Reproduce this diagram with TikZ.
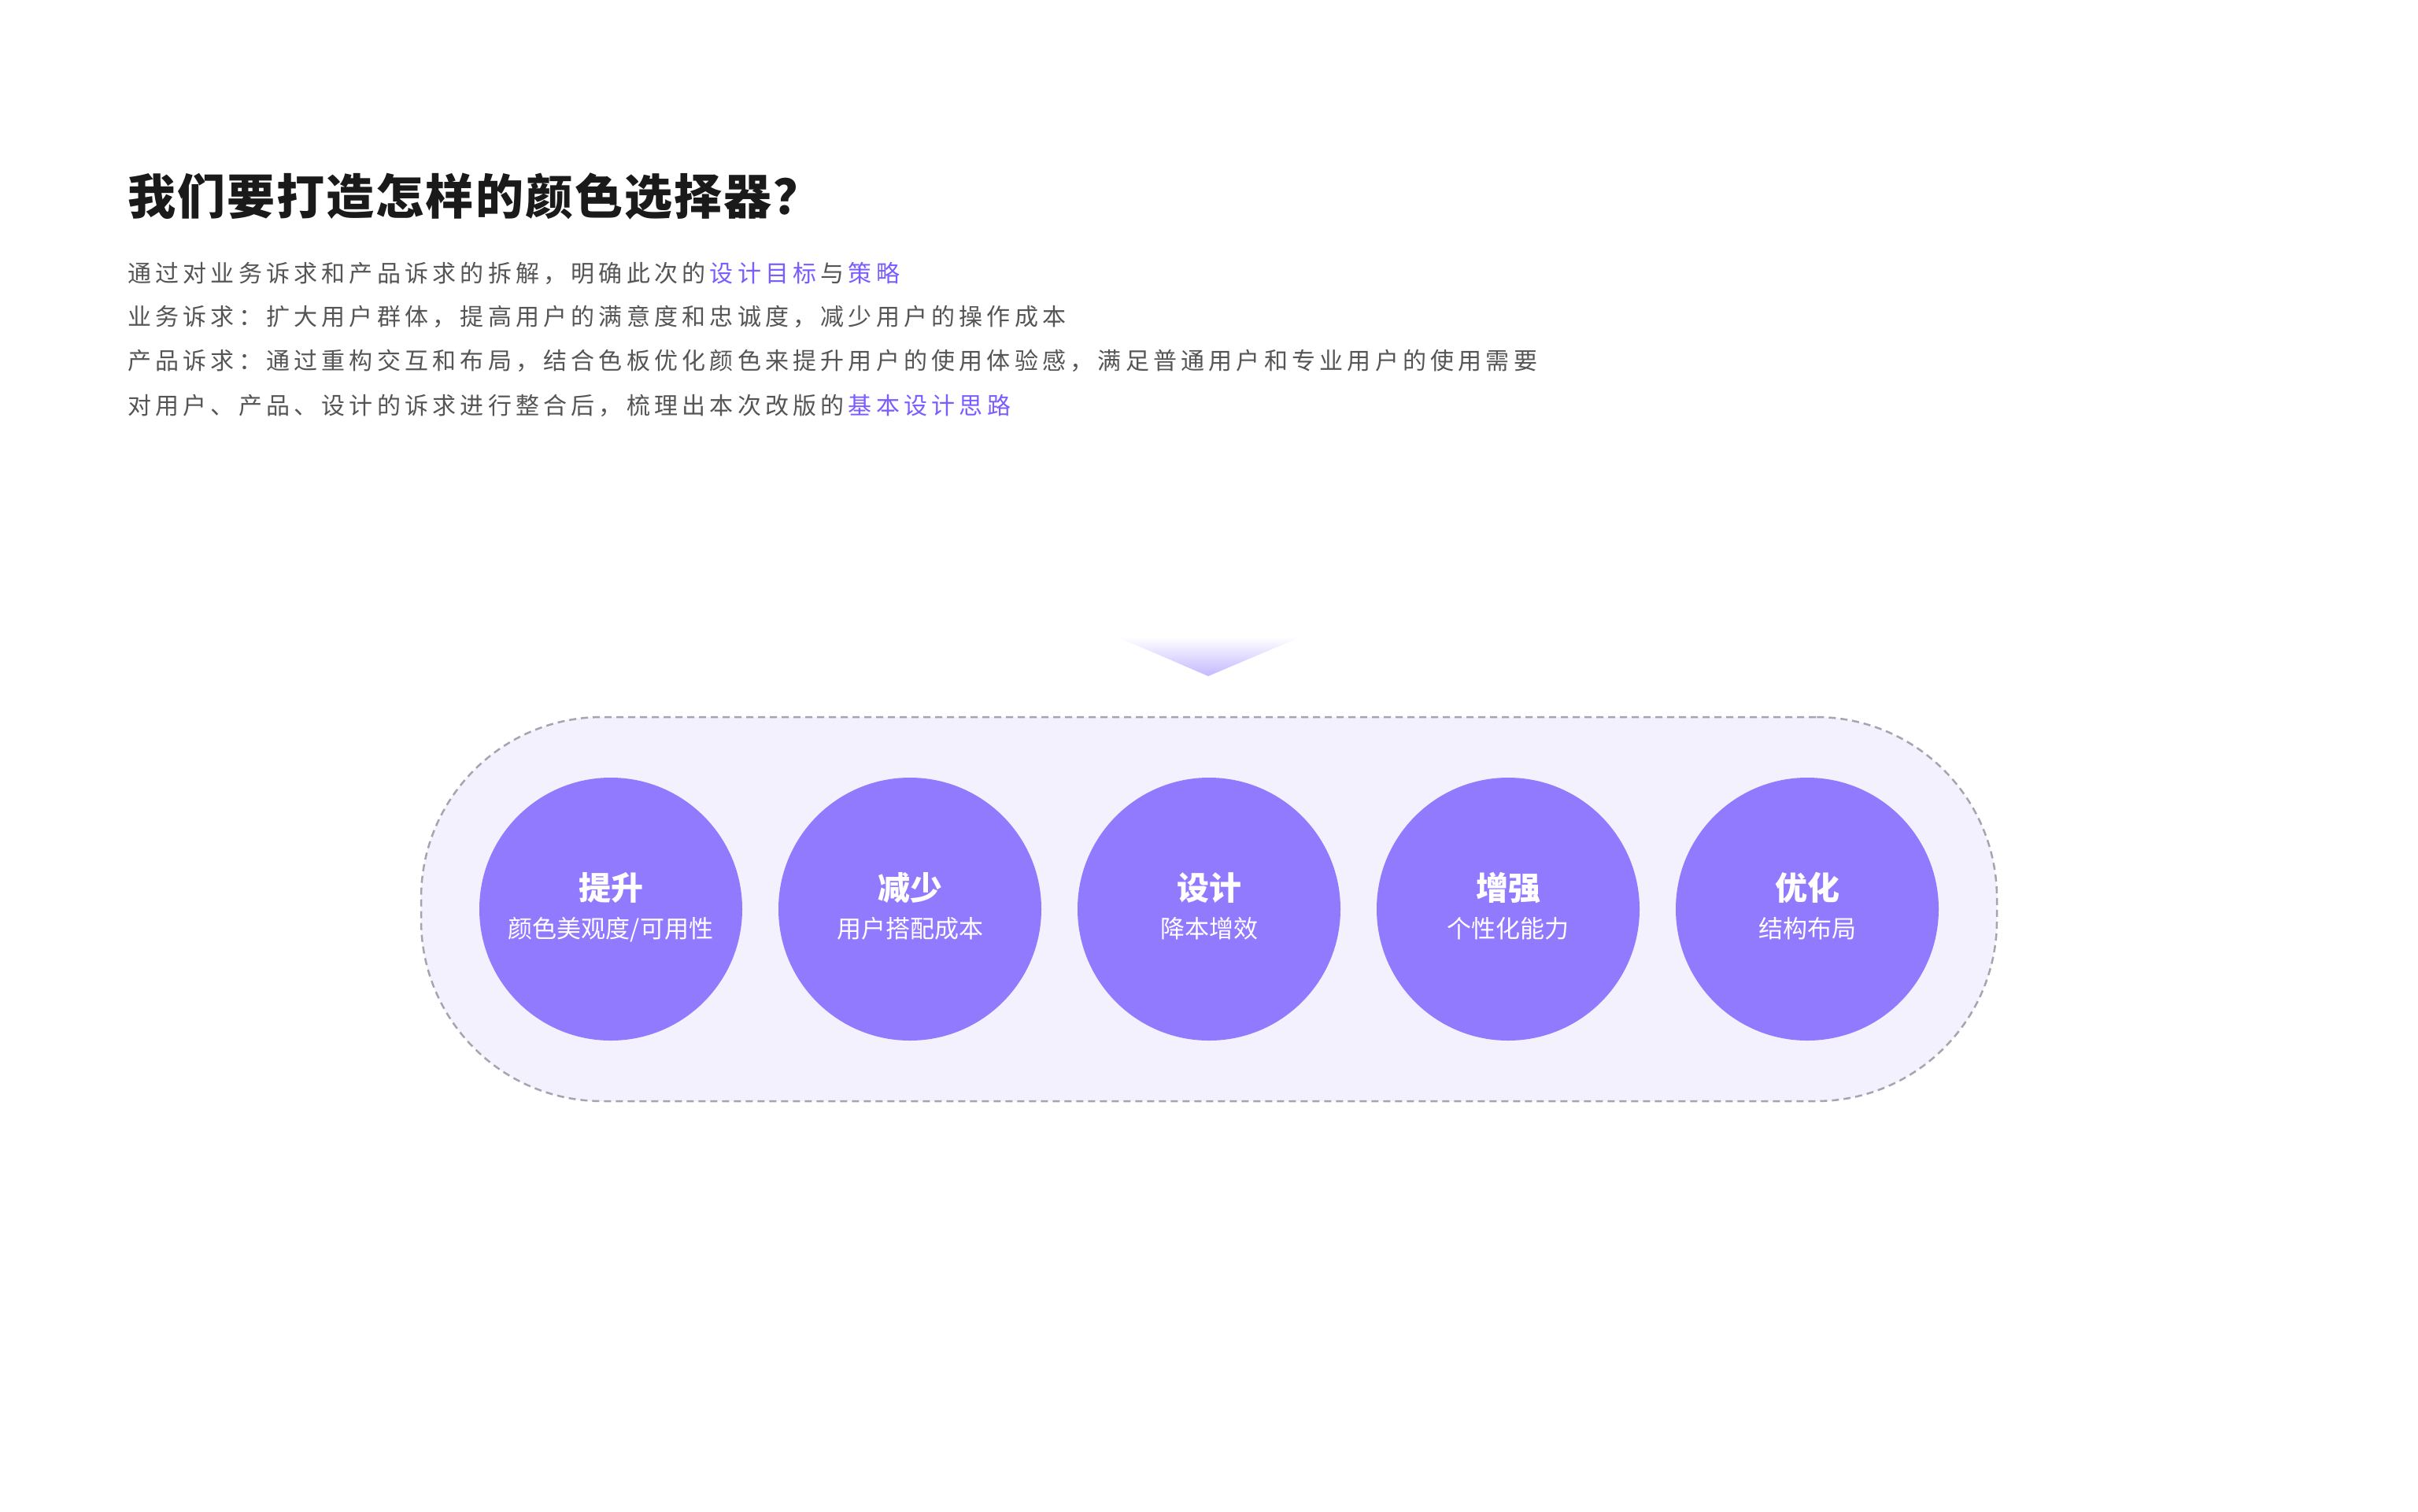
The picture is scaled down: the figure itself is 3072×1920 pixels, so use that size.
\documentclass[tikz,border=0pt]{standalone}
\usepackage{fontspec}
\setmainfont{Noto Sans CJK SC}
\newfontfamily\bodyfont[LetterSpace=17.4]{Noto Sans CJK SC}
\newfontfamily\headfont[LetterSpace=3.5]{Noto Sans CJK SC}
\usetikzlibrary{positioning, calc, shapes.geometric}
\definecolor{titleink}{HTML}{1A1A1A}
\definecolor{bodyink}{HTML}{555555}
\definecolor{accent}{HTML}{7A5CFF}
\definecolor{goalfill}{HTML}{927AFF}
\definecolor{bandfill}{HTML}{F3F1FE}
\definecolor{banddash}{HTML}{A6A4AE}
\definecolor{tipfill}{HTML}{C4B8FF}
\newcommand{\hl}[1]{\kern0.174em\textcolor{accent}{#1}\kern0.174em}
\tikzset{
  heading/.style = {anchor=base west, inner sep=0, text=titleink, font=\headfont\fontsize{61}{72}\selectfont\bfseries},
  bodyline/.style = {anchor=base west, inner sep=0, text=bodyink, font=\bodyfont\fontsize{30}{36}\selectfont},
  band/.style = {rectangle, rounded corners=230pt, draw=banddash, dash pattern=on 9pt off 6pt, line width=2.5pt, fill=bandfill, minimum width=2002pt, minimum height=488pt},
  goal/.style = {circle, fill=goalfill, minimum size=334pt, inner sep=0},
  goaltitle/.style = {anchor=base, inner sep=0, text=white, font=\fontsize{41}{48}\selectfont\bfseries},
  goalsub/.style = {anchor=base, inner sep=0, text=white, font=\fontsize{31}{36}\selectfont}
}

\begin{document}
\begin{tikzpicture}[x=1pt, y=-1pt]
    \fill[white] (0,0) rectangle (3072,1920);
    \useasboundingbox (0,0) rectangle (3072,1920);

    % Heading and intro text
    \node (title) [heading] at (162,272) {我们要打造怎样的颜色选择器？};
    \node (intro) [bodyline] at (162,358) {通过对业务诉求和产品诉求的拆解，明确此次的\hl{设计目标}与\hl{策略}};
    \node (biz) [bodyline] at (162,413) {业务诉求：扩大用户群体，提高用户的满意度和忠诚度，减少用户的操作成本};
    \node (prod) [bodyline] at (162,469) {产品诉求：通过重构交互和布局，结合色板优化颜色来提升用户的使用体验感，满足普通用户和专业用户的使用需要};
    \node (sum) [bodyline] at (162,526) {对用户、产品、设计的诉求进行整合后，梳理出本次改版的\hl{基本设计思路}};

    % Pointer
    \shade[top color=white, bottom color=tipfill] (1419,809) -- (1653,809) -- (1535,859) -- cycle;

    % Band
    \node (band) [band] at (1536,1155) {};

    % Goals
    \node (lift) [goal] at (776,1155) {};
    \node (reduce) [goal] at (1156,1155) {};
    \node (design) [goal] at (1536,1155) {};
    \node (boost) [goal] at (1916,1155) {};
    \node (refine) [goal] at (2296,1155) {};

    \node (lifttitle) [goaltitle] at ($(lift)+(0,-12)$) {提升};
    \node (liftsub) [goalsub] at ($(lift)+(0,36)$) {颜色美观度/可用性};
    \node (reducetitle) [goaltitle] at ($(reduce)+(0,-12)$) {减少};
    \node (reducesub) [goalsub] at ($(reduce)+(0,36)$) {用户搭配成本};
    \node (designtitle) [goaltitle] at ($(design)+(0,-12)$) {设计};
    \node (designsub) [goalsub] at ($(design)+(0,36)$) {降本增效};
    \node (boosttitle) [goaltitle] at ($(boost)+(0,-12)$) {增强};
    \node (boostsub) [goalsub] at ($(boost)+(0,36)$) {个性化能力};
    \node (refinetitle) [goaltitle] at ($(refine)+(0,-12)$) {优化};
    \node (refinesub) [goalsub] at ($(refine)+(0,36)$) {结构布局};
\end{tikzpicture}
\end{document}
